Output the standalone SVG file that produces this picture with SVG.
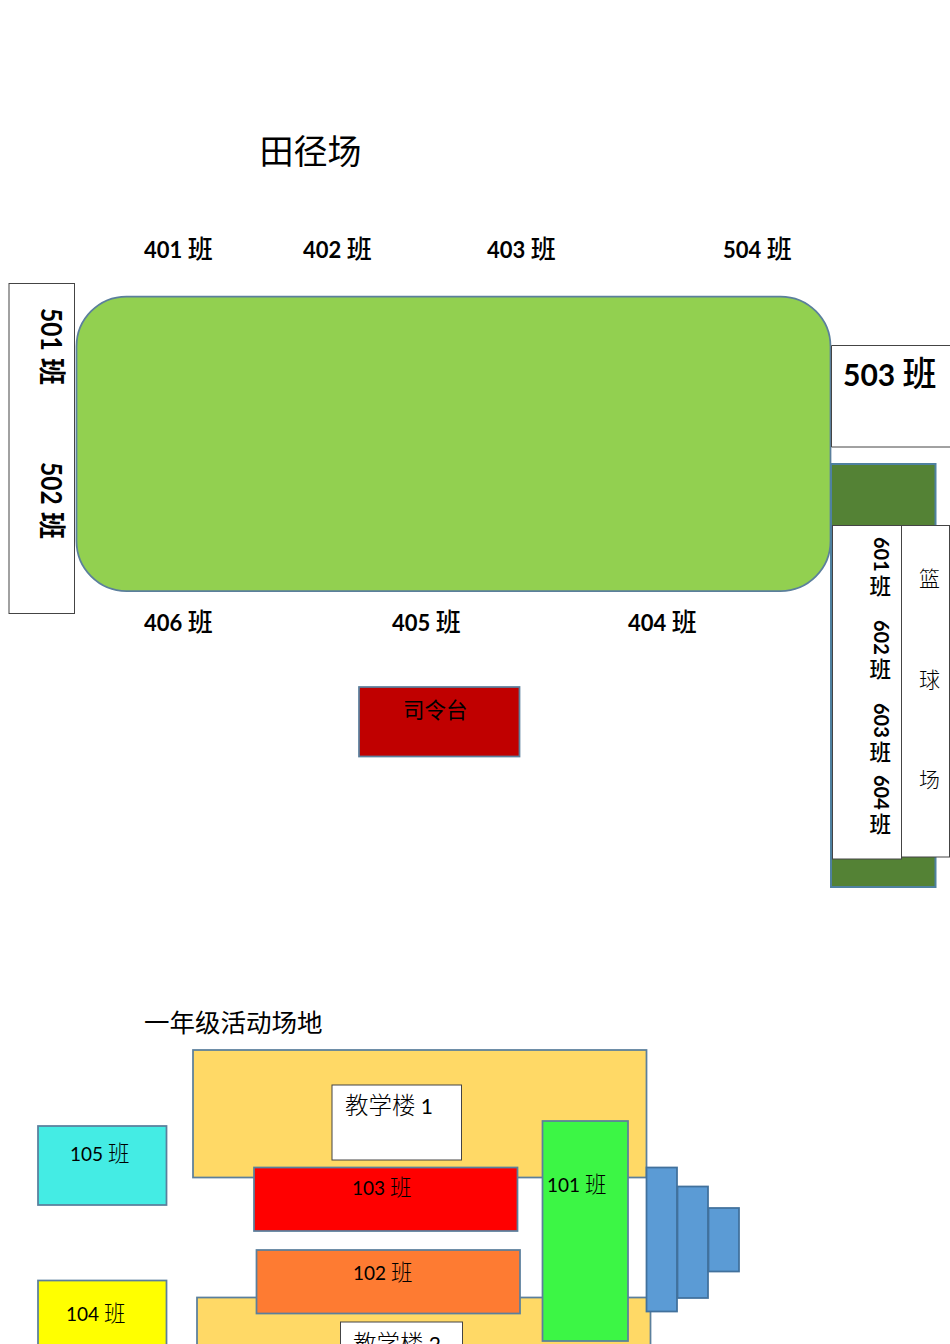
<svg xmlns="http://www.w3.org/2000/svg" width="950" height="1344" viewBox="0 0 950 1344">
<style>
text{font-family:"Lato","Noto Sans CJK SC",sans-serif;fill:#000}
.c{font-family:"Noto Sans CJK SC",sans-serif}
.b{font-weight:700;font-size:22px}
.b .c{font-size:25px;font-weight:500}
.n{font-size:19px}
.n .c{font-size:21.500px;font-weight:300}
.s{stroke:#5b7f9c;stroke-width:1.750}
.w{fill:#fff;stroke:#444;stroke-width:1}
.y{fill:#ffd966}
.t{fill:#5b9bd5;stroke:#41719c;stroke-width:1.750}
</style>
<text x="259.500" y="164" class="c" font-size="34">田径场</text>
<text x="144" y="1031.500" class="c" font-size="25.500">一年级活动场地</text>
<g id="labels-top">
<text x="144" y="258" class="b">401 <tspan class="c">班</tspan></text>
<text x="303" y="258" class="b">402 <tspan class="c">班</tspan></text>
<text x="487" y="258" class="b">403 <tspan class="c">班</tspan></text>
<text x="723" y="258" class="b">504 <tspan class="c">班</tspan></text>
</g>
<g id="labels-bottom">
<text x="144" y="631" class="b">406 <tspan class="c">班</tspan></text>
<text x="392" y="631" class="b">405 <tspan class="c">班</tspan></text>
<text x="628" y="631" class="b">404 <tspan class="c">班</tspan></text>
</g>
<g id="box-501-502">
<rect x="9" y="283.500" width="65.500" height="330" class="w"/>
<text transform="translate(40.500,308) rotate(90) scale(1,1.15)" font-size="24.500" font-weight="700">501</text>
<text transform="translate(42,358) rotate(90)" class="c" font-size="27" font-weight="700">班</text>
<text transform="translate(40.500,462) rotate(90) scale(1,1.15)" font-size="24.500" font-weight="700">502</text>
<text transform="translate(42,512) rotate(90)" class="c" font-size="27" font-weight="700">班</text>
</g>
<g id="track"><rect x="76.500" y="296.500" width="754" height="294.500" rx="50" fill="#92d050" class="s"/></g>
<g id="box-503">
<path d="M950 345.500H831.500V447H950" fill="#fff" stroke="#444" stroke-width="1"/>
<text x="843" y="386" font-size="30" font-weight="700">503 <tspan class="c" font-size="34" font-weight="500">班</tspan></text>
</g>
<g id="basketball-base"><rect x="831" y="464" width="104.500" height="423" fill="#548235" stroke="#4f81a0" stroke-width="2"/></g>
<g id="box-601-604">
<rect x="832.500" y="525.500" width="69" height="333.500" class="w"/>
<text transform="translate(873.500,537) rotate(90)" font-size="20" font-weight="700">601</text>
<text transform="translate(873.500,620) rotate(90)" font-size="20" font-weight="700">602</text>
<text transform="translate(873.500,703) rotate(90)" font-size="20" font-weight="700">603</text>
<text transform="translate(873.500,775) rotate(90)" font-size="20" font-weight="700">604</text>
<text x="869.500" y="594" class="c" font-size="21.500" font-weight="500">班</text>
<text x="869.500" y="677" class="c" font-size="21.500" font-weight="500">班</text>
<text x="869.500" y="760" class="c" font-size="21.500" font-weight="500">班</text>
<text x="869.500" y="832" class="c" font-size="21.500" font-weight="500">班</text>
</g>
<g id="box-basketball">
<rect x="901.500" y="525.500" width="48" height="331.500" class="w"/>
<text x="919" y="586" class="c" font-size="21" font-weight="300">篮</text>
<text x="919" y="687" class="c" font-size="21" font-weight="300">球</text>
<text x="919" y="787" class="c" font-size="21" font-weight="300">场</text>
</g>
<g id="command-stage">
<rect x="359" y="687" width="160.500" height="69.500" fill="#c00000" class="s"/>
<text x="403" y="718" class="c" font-size="21.500">司令台</text>
</g>
<g id="building-1">
<rect x="193" y="1050" width="453.500" height="127.500" class="y s"/>
<rect x="332" y="1085" width="129.500" height="75" class="w"/>
<text x="345" y="1114" class="c" font-size="23.500" font-weight="300">教学楼 <tspan font-family="Lato" font-size="21" font-weight="400">1</tspan></text>
</g>
<g id="building-2">
<rect x="197" y="1297.500" width="453.500" height="60" class="y s"/>
<rect x="340.500" y="1322" width="122" height="40" class="w"/>
<text x="353" y="1352" class="c" font-size="23.500" font-weight="300">教学楼 <tspan font-family="Lato" font-size="21" font-weight="400">2</tspan></text>
</g>
<g id="class-105"><rect x="38" y="1126" width="128.500" height="79" fill="#44ece4" class="s"/><text x="70" y="1161" class="n">105 <tspan class="c">班</tspan></text></g>
<g id="class-104"><rect x="38" y="1280.500" width="128.500" height="80" fill="#ff0" class="s"/><text x="66" y="1321" class="n">104 <tspan class="c">班</tspan></text></g>
<g id="class-103"><rect x="254" y="1167.500" width="263.500" height="63.500" fill="#f00" class="s"/><text x="352" y="1195" class="n">103 <tspan class="c">班</tspan></text></g>
<g id="class-102"><rect x="256.500" y="1250" width="263.500" height="63.500" fill="#fe7b32" class="s"/><text x="353" y="1280" class="n">102 <tspan class="c">班</tspan></text></g>
<g id="class-101"><rect x="542.500" y="1121" width="85.500" height="220" fill="#3cf645" class="s"/><text x="547" y="1192" class="n">101 <tspan class="c">班</tspan></text></g>
<g id="stairs">
<rect x="646.500" y="1167.500" width="30.500" height="144" class="t"/>
<rect x="677.500" y="1186.500" width="30.500" height="111.500" class="t"/>
<rect x="708.500" y="1208" width="30.500" height="63.500" class="t"/>
</g>
</svg>
